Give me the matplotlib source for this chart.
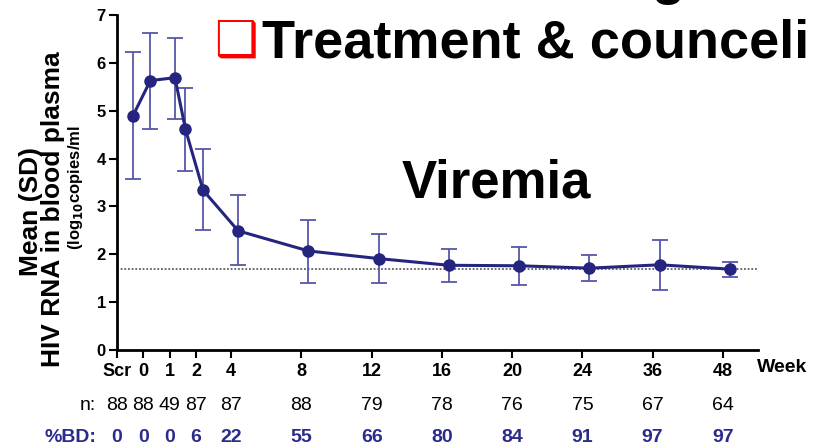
import numpy as np
import matplotlib.pyplot as plt
from matplotlib import transforms

plt.rcParams['font.family'] = ['Liberation Sans', 'DejaVu Sans']

# x axis: week labels and where they sit on the axis
week_labels = ['Scr', '0', '1', '2', '4', '8', '12', '16', '20', '24', '36', '48']
tick_pos = [-2.5, -1, 0.5, 2, 4, 8, 12, 16, 20, 24, 28, 32]

# patients per visit and % below detection
n_vals = [88, 88, 49, 87, 87, 88, 79, 78, 76, 75, 67, 64]
bd_vals = [0, 0, 0, 6, 22, 55, 66, 80, 84, 91, 97, 97]

# mean (SD) viral load, log10 copies/ml
point_pos = [-1.6, -0.6, 0.8, 1.4, 2.4, 4.4, 8.4, 12.4, 16.4, 20.4, 24.4, 28.4, 32.4]
means = [4.89, 5.63, 5.69, 4.61, 3.34, 2.49, 2.07, 1.91, 1.77, 1.76, 1.71, 1.78, 1.69]
upper = [6.23, 6.62, 6.51, 5.48, 4.19, 3.23, 2.72, 2.43, 2.12, 2.16, 1.99, 2.30, 1.84]
lower = [3.57, 4.61, 4.83, 3.75, 2.50, 1.78, 1.41, 1.41, 1.43, 1.36, 1.44, 1.25, 1.52]
detect_limit = 1.7

line_col = '#25257f'
err_col = '#5656aa'
bd_col = '#2b2b8c'

fig = plt.figure(figsize=(8.14, 4.46), dpi=100)
ax = fig.add_axes([117 / 814, 1 - 350 / 446, (758 - 117) / 814, (350 - 15) / 446])

m = np.array(means)
yerr = [m - np.array(lower), np.array(upper) - m]
ax.errorbar(point_pos, means, yerr=yerr, fmt='none', ecolor=err_col,
            elinewidth=1.3, capsize=6, capthick=1.3, zorder=2)
ax.plot(point_pos, means, color=line_col, lw=2.2, marker='o', ms=8,
        mfc=line_col, mec=line_col, zorder=3)
ax.axhline(detect_limit, color='#444444', lw=1.1, ls=(0, (1.2, 1.2)), zorder=1)

ax.set_xlim(-2.5, 34)
ax.set_ylim(0, 7)
ax.set_yticks(range(0, 8))
ax.set_xticks(tick_pos)
ax.set_xticklabels(week_labels)
for lab in ax.get_yticklabels():
    lab.set_fontweight('bold')
for lab in ax.get_xticklabels():
    lab.set_fontweight('bold')
ax.tick_params(axis='y', labelsize=12, length=6, width=1.5, pad=2)
ax.tick_params(axis='x', labelsize=13, length=6, width=1.5, pad=3)
ax.spines['top'].set_visible(False)
ax.spines['right'].set_visible(False)
ax.spines['left'].set_linewidth(2)
ax.spines['bottom'].set_linewidth(2)

fig.text(757 / 814, 1 - 368 / 446, 'Week', ha='left', va='center',
         fontsize=14, fontweight='bold')

# rows under the axis
tr = transforms.blended_transform_factory(ax.transData, fig.transFigure)
for p, n, b in zip(tick_pos, n_vals, bd_vals):
    ax.text(p, 1 - 406 / 446, str(n), transform=tr, ha='center', va='center',
            fontsize=14)
    ax.text(p, 1 - 437 / 446, str(b), transform=tr, ha='center', va='center',
            fontsize=14, fontweight='bold', color=bd_col)
fig.text(96 / 814, 1 - 406 / 446, 'n:', ha='right', va='center', fontsize=14)
fig.text(96 / 814, 1 - 437 / 446, '%BD:', ha='right', va='center', fontsize=14,
         fontweight='bold', color=bd_col)

# y label in three lines, anchored on their baselines
fig.text(38 / 814, 1 - 211 / 446, 'Mean (SD)', rotation=90, rotation_mode='anchor',
         ha='center', va='baseline', fontsize=19, fontweight='bold')
fig.text(60 / 814, 1 - 209 / 446, 'HIV RNA in blood plasma', rotation=90,
         rotation_mode='anchor', ha='center', va='baseline', fontsize=19,
         fontweight='bold')
fig.text(80 / 814, 1 - 188 / 446, r'(log$_{\mathbf{10}}$copies/ml', rotation=90,
         rotation_mode='anchor', ha='center', va='baseline', fontsize=12,
         fontweight='bold')

# slide text
fig.text(402 / 814, 1 - 197 / 446, 'Viremia', ha='left', va='baseline',
         fontsize=38, fontweight='bold')
fig.text(262 / 814, 1 - 57 / 446, 'Treatment & counceli', ha='left',
         va='baseline', fontsize=39, fontweight='bold')
fig.text(214 / 814, 1 - 57 / 446, '\u2751', ha='left', va='baseline',
         fontsize=35, color='red', family='DejaVu Sans')
fig.text(652 / 814, 1 + 6 / 446, 'g', ha='left', va='baseline',
         fontsize=39, fontweight='bold')

fig.savefig('out.png', dpi=100)
